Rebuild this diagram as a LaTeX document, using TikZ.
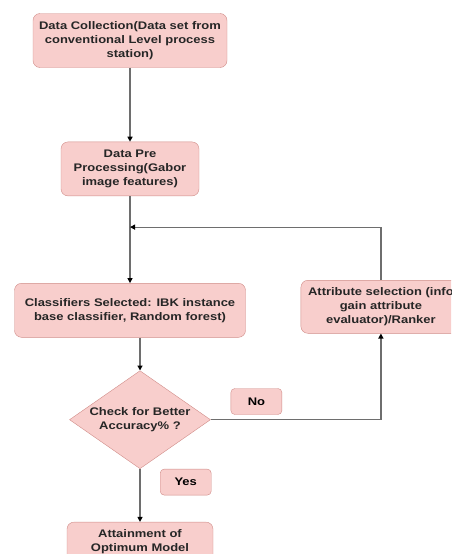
\documentclass[tikz,border=0pt]{standalone}
\usepackage{fontspec}
\setmainfont{Liberation Sans}[FakeStretch=1.18]
\usepackage{xcolor}
\usetikzlibrary{shapes.geometric,arrows.meta,positioning}

\definecolor{boxfill}{HTML}{F8CECC}
\definecolor{boxline}{HTML}{D08C88}
\definecolor{linegray}{HTML}{6E6E6E}

\begin{document}
\begin{tikzpicture}[
  x=1pt, y=-1pt,
  font=\fontsize{11}{14}\selectfont\bfseries,
  box/.style={draw=boxline, fill=boxfill, rounded corners=7pt,
              minimum width=#1, minimum height=54pt, align=center,
              inner sep=2pt, text=black!85},
  box/.default=140pt,
  decision/.style={draw=boxline, fill=boxfill, diamond, aspect=1.44,
                   minimum width=141pt, minimum height=98pt,
                   align=center, inner sep=0pt, text=black!85},
  tag/.style={draw=boxline, fill=boxfill, rounded corners=4pt,
              minimum width=51pt, minimum height=26pt, inner sep=1pt},
  arr/.style={draw=linegray, line width=1.2pt,
              -{Triangle[length=5pt, width=5pt, color=black]}},
]

\useasboundingbox (0,0) rectangle (451,554);
\clip (0,0) rectangle (451,554);

%% --- Nodes ---
\node[box=194pt] (collect) at (130,40.5)
      {Data Collection(Data set from\\conventional Level process\\station)};

\node[box=138pt, below=74pt of collect] (prep)
      {Data Pre\\Processing(Gabor\\image features)};

\node[box=231pt, below=87pt of prep] (classif)
      {Classifiers Selected: IBK instance\\base classifier, Random forest)};

\node[decision, below=33pt of classif, xshift=10pt] (check)
      {Check for Better\\Accuracy\% ?};

\node[box=146pt, minimum height=40pt, below=53pt of check] (optimum)
      {Attainment of\\Optimum Model};

\node[box=160pt, minimum height=53pt, right=55pt of classif, yshift=3.5pt] (attrsel)
      {Attribute selection (info\\gain attribute\\evaluator)/Ranker};

\coordinate (merge) at ([yshift=-31pt]prep.south);

%% --- Arrows ---
\draw[arr] (collect) -- (prep);
\draw[arr] (prep) -- (classif);
\draw[arr] (check.north |- classif.south) -- (check.north);
\draw[arr] (check.east) -| (attrsel.south);
\draw[arr] (attrsel.north) |- (merge);
\draw[arr] (check.south) -- (optimum.north);

%% --- Labels ---
\node[tag, above right=5pt and 20pt of check.east] (no) {No};
\node[tag, below right=0pt and 20pt of check.south] (yes) {Yes};

\end{tikzpicture}
\end{document}
